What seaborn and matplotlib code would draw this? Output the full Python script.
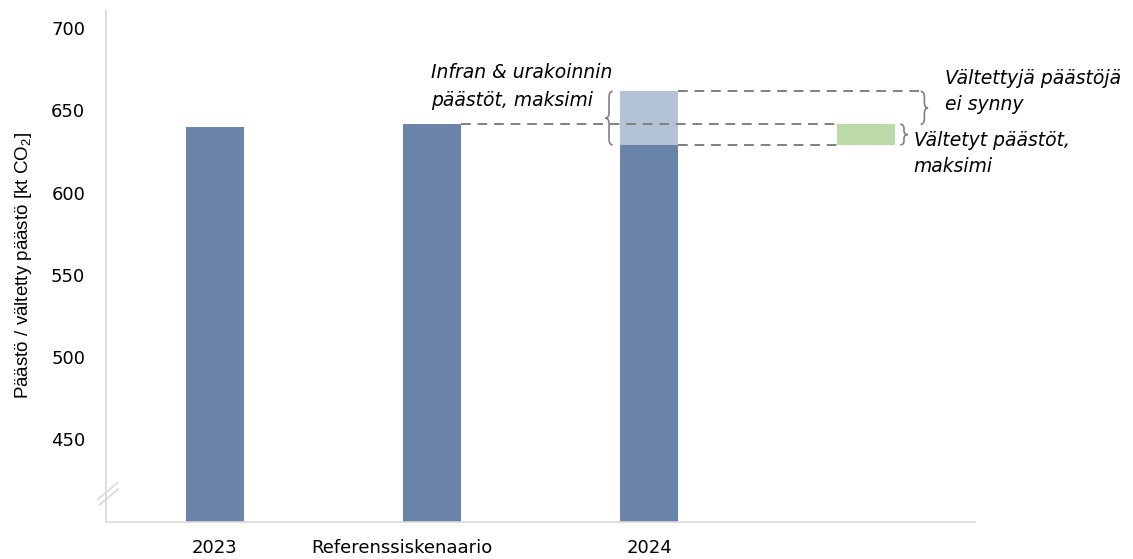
import numpy as np
import pandas as pd
import matplotlib
matplotlib.use("Agg")
import matplotlib.pyplot as plt
from matplotlib.path import Path
from matplotlib.patches import PathPatch
from matplotlib.transforms import ScaledTranslation
import seaborn as sns

# --- data -------------------------------------------------------------
categories = ["2023", "Referenssiskenaario", "2024", ""]
emissions = [640.0, 641.5, 629.0]          # kt CO2, first three categories
infra_max = 32.5                            # Infran & urakoinnin päästöt, maksimi
avoided_max = emissions[1] - emissions[2]   # Vältetyt päästöt, maksimi
y_ticks = [450, 500, 550, 600, 650, 700]
y_limits = (400, 711)

ylabel = "Päästö / vältetty päästö [kt CO$_2$]"
infra_label = ["Infran & urakoinnin", "päästöt, maksimi"]
not_arising_label = ["Vältettyjä päästöjä", "ei synny"]
avoided_label = ["Vältetyt päästöt,", "maksimi"]

# --- style ------------------------------------------------------------
dark_blue = "#6A84A9"
light_blue = "#B4C2D5"
green = "#BCDAA8"
spine_grey = "#D9D9D9"
dash_grey = "#808080"
bar_w = 0.267

sns.set_theme(style="white")
plt.rcParams["font.family"] = ["DejaVu Sans"]
plt.rcParams["mathtext.fontset"] = "custom"
plt.rcParams["mathtext.rm"] = "Liberation Sans"
plt.rcParams["mathtext.it"] = "Liberation Sans:italic"

fig = plt.figure(figsize=(11.33, 5.59), dpi=100)
ax = fig.add_axes([106 / 1133, 1 - 521.5 / 559, (975 - 106) / 1133, (521.5 - 10) / 559])

df = pd.DataFrame({"kategoria": categories[:3], "paasto": emissions})
sns.barplot(data=df, x="kategoria", y="paasto", order=categories,
            color=dark_blue, saturation=1, width=bar_w, linewidth=0, ax=ax)

# stacked maximum for infra & contracting on top of 2024
ax.bar(2, infra_max, bottom=emissions[2], width=bar_w, color=light_blue, linewidth=0)
# avoided emissions bar
ax.bar(3, avoided_max, bottom=emissions[2], width=bar_w, color=green, linewidth=0)

ax.set_xlim(-0.5, 3.5)
ax.set_ylim(*y_limits)
ax.set_yticks(y_ticks)
ax.set_xlabel("")
ax.set_ylabel(ylabel, fontsize=13.5, labelpad=12, color="black",
              family="Liberation Sans")
ax.tick_params(axis="both", length=0, labelsize=13, colors="black")
ax.tick_params(axis="y", pad=15)
ax.tick_params(axis="x", pad=12.5)

# the long scenario label sits a little to the left of its bar
fig.canvas.draw()
ref_lbl = ax.get_xticklabels()[1]
ref_lbl.set_transform(ref_lbl.get_transform()
                      + ScaledTranslation(-0.30, 0, fig.dpi_scale_trans))

for side in ("top", "right"):
    ax.spines[side].set_visible(False)
for side in ("left", "bottom"):
    ax.spines[side].set_color(spine_grey)
    ax.spines[side].set_linewidth(1.2)

# dashed guide lines
half = bar_w / 2
top_2024 = emissions[2] + infra_max
dash = dict(color=dash_grey, linestyle=(0, (5, 3.5)), linewidth=1.4, zorder=3)
ax.plot([1 + half, 3 - half], [emissions[1]] * 2, **dash)
ax.plot([2 + half, 3.25], [top_2024] * 2, **dash)
ax.plot([2 + half, 3 - half], [emissions[2]] * 2, **dash)


def brace(ax, x, y0, y1, direction, dx=0.017, r=3.5):
    """Vertical curly brace at x from y0 to y1; tip points to direction (+1 right, -1 left)."""
    r = min(r, (y1 - y0) / 4)
    ym = (y0 + y1) / 2
    xe = x - direction * dx  # open ends
    xt = x + direction * dx  # tip
    verts = [(xe, y1), (x, y1), (x, y1 - r),
             (x, ym + r), (x, ym), (xt, ym),
             (x, ym), (x, ym - r),
             (x, y0 + r), (x, y0), (xe, y0)]
    codes = [Path.MOVETO, Path.CURVE3, Path.CURVE3,
             Path.LINETO, Path.CURVE3, Path.CURVE3,
             Path.CURVE3, Path.CURVE3,
             Path.LINETO, Path.CURVE3, Path.CURVE3]
    ax.add_patch(PathPatch(Path(verts, codes), facecolor="none",
                           edgecolor=dash_grey, linewidth=1.2, clip_on=False))


brace(ax, 1.8155, emissions[2], top_2024, -1)
brace(ax, 3.267, emissions[1], top_2024, +1)
brace(ax, 3.173, emissions[2], emissions[1], +1, r=2.5)

txt = dict(fontsize=13.5, style="italic", color="black", va="center", ha="left")
ax.text(0.995, 673.2, infra_label[0], **txt)
ax.text(0.995, 656.2, infra_label[1], **txt)
ax.text(3.364, 669.6, not_arising_label[0], **txt)
ax.text(3.364, 653.6, not_arising_label[1], **txt)
ax.text(3.217, 631.9, avoided_label[0], **txt)
ax.text(3.217, 615.9, avoided_label[1], **txt)

# axis break marks on the value axis
brk = dict(color=spine_grey, linewidth=1.2, clip_on=False)
ax.plot([-0.538, -0.446], [413.4, 423.7], **brk)
ax.plot([-0.531, -0.443], [410.0, 419.8], **brk)

fig.savefig("out.png", dpi=100)
